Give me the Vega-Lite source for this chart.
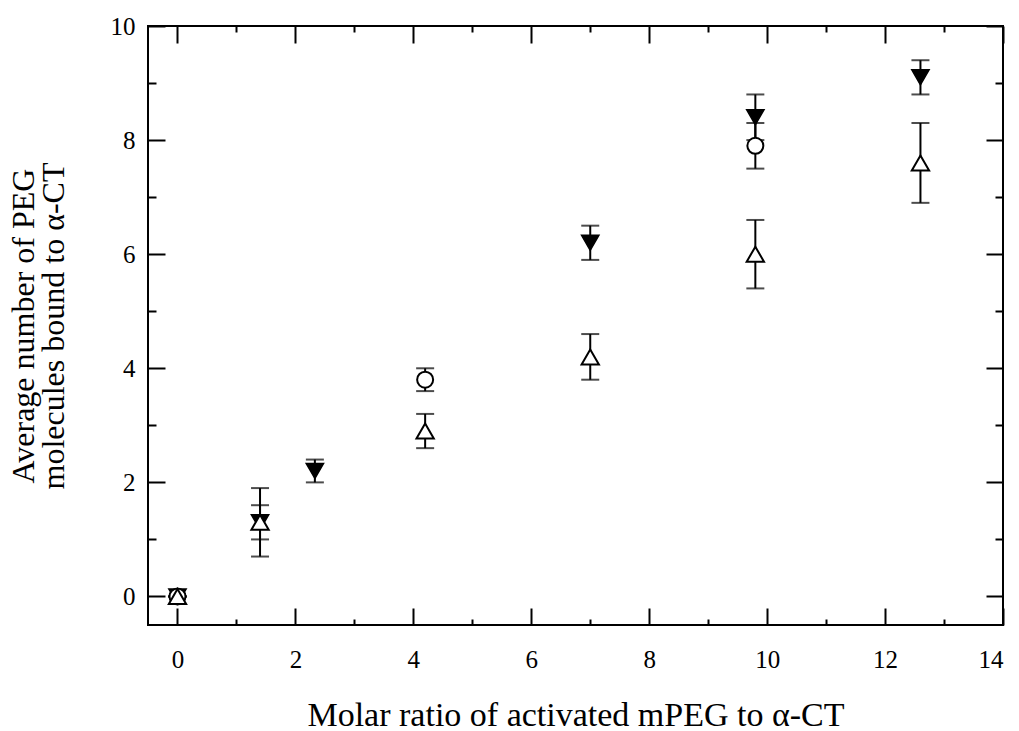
{
  "$schema": "https://vega.github.io/schema/vega-lite/v6.json",
  "width": 855,
  "height": 599,
  "autosize": "none",
  "padding": {"left": 148, "top": 26, "right": 16, "bottom": 106},
  "background": "white",
  "datasets": {
    "pts": [
      {"series": "filled", "x": 0, "y": 0, "lo": 0, "hi": 0},
      {"series": "filled", "x": 1.4, "y": 1.3, "lo": 1.0, "hi": 1.6},
      {"series": "filled", "x": 2.33, "y": 2.2, "lo": 2.0, "hi": 2.4},
      {"series": "filled", "x": 7.0, "y": 6.2, "lo": 5.9, "hi": 6.5},
      {"series": "filled", "x": 9.8, "y": 8.4, "lo": 8.0, "hi": 8.8},
      {"series": "filled", "x": 12.6, "y": 9.1, "lo": 8.8, "hi": 9.4},
      {"series": "circle", "x": 0, "y": 0, "lo": 0, "hi": 0},
      {"series": "circle", "x": 4.2, "y": 3.8, "lo": 3.6, "hi": 4.0},
      {"series": "circle", "x": 9.8, "y": 7.9, "lo": 7.5, "hi": 8.3},
      {"series": "open", "x": 0, "y": 0, "lo": 0, "hi": 0},
      {"series": "open", "x": 1.4, "y": 1.3, "lo": 0.7, "hi": 1.9},
      {"series": "open", "x": 4.2, "y": 2.9, "lo": 2.6, "hi": 3.2},
      {"series": "open", "x": 7.0, "y": 4.2, "lo": 3.8, "hi": 4.6},
      {"series": "open", "x": 9.8, "y": 6.0, "lo": 5.4, "hi": 6.6},
      {"series": "open", "x": 12.6, "y": 7.6, "lo": 6.9, "hi": 8.3}
    ]
  },
  "data": {"name": "pts"},
  "resolve": {"axis": {"x": "independent", "y": "independent"}},
  "layer": [
    {
      "mark": {"type": "rule", "color": "black", "strokeWidth": 2},
      "encoding": {
        "x": {"field": "x", "type": "quantitative",
          "scale": {"domain": [-0.5, 14], "nice": false, "zero": false},
          "axis": {"orient": "bottom", "values": [0, 2, 4, 6, 8, 10, 12, 14], "tickSize": -17, "labelPadding": 39, "labels": true,
            "title": "Molar ratio of activated mPEG to α-CT", "titlePadding": 26, "titleFontSize": 34}},
        "y": {"field": "lo", "type": "quantitative",
          "scale": {"domain": [-0.5, 10], "nice": false, "zero": false},
          "axis": {"orient": "left", "values": [0, 2, 4, 6, 8, 10], "tickSize": -17, "labelPadding": 30,
            "title": ["Average number of PEG", "molecules bound to α-CT"], "titlePadding": 40}},
        "y2": {"field": "hi"}
      }
    },
    {
      "mark": {"type": "tick", "orient": "horizontal", "color": "black", "size": 18, "thickness": 2},
      "encoding": {
        "x": {"field": "x", "type": "quantitative",
          "scale": {"domain": [-0.5, 14], "nice": false, "zero": false},
          "axis": {"orient": "bottom", "values": [1, 3, 5, 7, 9, 11, 13], "tickSize": -6, "labels": false, "title": null}},
        "y": {"field": "lo", "type": "quantitative",
          "scale": {"domain": [-0.5, 10], "nice": false, "zero": false},
          "axis": {"orient": "left", "values": [1, 3, 5, 7, 9], "tickSize": -8, "labels": false, "title": null}}
      }
    },
    {
      "mark": {"type": "tick", "orient": "horizontal", "color": "black", "size": 18, "thickness": 2},
      "encoding": {
        "x": {"field": "x", "type": "quantitative",
          "scale": {"domain": [-0.5, 14], "nice": false, "zero": false},
          "axis": {"orient": "top", "values": [0, 2, 4, 6, 8, 10, 12, 14], "tickSize": -17, "labels": false, "title": null}},
        "y": {"field": "hi", "type": "quantitative",
          "scale": {"domain": [-0.5, 10], "nice": false, "zero": false},
          "axis": {"orient": "right", "values": [0, 2, 4, 6, 8, 10], "tickSize": -17, "labels": false, "title": null}}
      }
    },
    {
      "transform": [{"filter": "datum.series === 'filled'"}],
      "mark": {"type": "point", "shape": "triangle-down", "filled": true, "color": "black", "size": 300, "strokeWidth": 1.5, "stroke": "black", "opacity": 1},
      "encoding": {
        "x": {"field": "x", "type": "quantitative",
          "scale": {"domain": [-0.5, 14], "nice": false, "zero": false},
          "axis": {"orient": "top", "values": [1, 3, 5, 7, 9, 11, 13], "tickSize": -6, "labels": false, "title": null}},
        "y": {"field": "y", "type": "quantitative",
          "scale": {"domain": [-0.5, 10], "nice": false, "zero": false},
          "axis": {"orient": "right", "values": [1, 3, 5, 7, 9], "tickSize": -8, "labels": false, "title": null}}
      }
    },
    {
      "transform": [{"filter": "datum.series === 'circle'"}],
      "mark": {"type": "point", "shape": "circle", "filled": true, "fill": "white", "stroke": "black", "strokeWidth": 2, "size": 256, "opacity": 1},
      "encoding": {
        "x": {"field": "x", "type": "quantitative", "scale": {"domain": [-0.5, 14], "nice": false, "zero": false}, "axis": null},
        "y": {"field": "y", "type": "quantitative", "scale": {"domain": [-0.5, 10], "nice": false, "zero": false}, "axis": null}
      }
    },
    {
      "transform": [{"filter": "datum.series === 'open'"}],
      "mark": {"type": "point", "shape": "triangle-up", "filled": true, "fill": "white", "stroke": "black", "strokeWidth": 2, "size": 300, "opacity": 1},
      "encoding": {
        "x": {"field": "x", "type": "quantitative", "scale": {"domain": [-0.5, 14], "nice": false, "zero": false}, "axis": null},
        "y": {"field": "y", "type": "quantitative", "scale": {"domain": [-0.5, 10], "nice": false, "zero": false}, "axis": null}
      }
    }
  ],
  "config": {
    "view": {"stroke": "black", "strokeWidth": 2},
    "axis": {
      "domain": false, "grid": false,
      "tickColor": "black", "tickWidth": 2,
      "labelFont": "Liberation Serif", "labelFontSize": 25, "labelColor": "black",
      "titleFont": "Liberation Serif", "titleFontSize": 32, "titleFontWeight": "normal", "titleColor": "black",
      "titleLineHeight": 30
    }
  }
}
